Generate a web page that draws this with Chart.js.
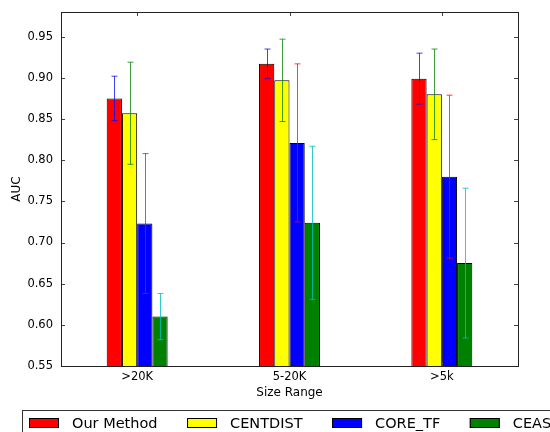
<!DOCTYPE html>
<html>
<head>
<meta charset="utf-8">
<script src="https://cdn.jsdelivr.net/npm/chart.js@4.4.1/dist/chart.umd.min.js"></script>
<style>
  html, body { margin: 0; padding: 0; background: #fff; overflow: hidden; }
  #wrap { width: 550px; height: 432px; position: relative; }
</style>
</head>
<body>
<div id="wrap"><canvas id="c" width="550" height="432"></canvas></div>
<script>
// ---- data ----
const categories = ['>20K', '5-20K', '>5k'];
const seriesNames = ['Our Method', 'CENTDIST', 'CORE_TF', 'CEAS'];
const ourMethod = [0.875, 0.917, 0.899];
const ourMethodErr = [0.027, 0.018, 0.031];
const centdist = [0.857, 0.897, 0.880];
const centdistErr = [0.062, 0.050, 0.055];
const coreTF = [0.723, 0.821, 0.780];
const coreTFErr = [0.085, 0.096, 0.099];
const ceas = [0.610, 0.724, 0.675];
const ceasErr = [0.028, 0.093, 0.091];
const yTicks = [0.55, 0.60, 0.65, 0.70, 0.75, 0.80, 0.85, 0.90, 0.95];

// ---- styles ----
const barColors = ['#ff0000', '#ffff00', '#0000ff', '#008000'];
const errColors = ['rgba(0,0,255,0.75)', 'rgba(0,128,0,0.75)', 'rgba(255,0,0,0.75)', 'rgba(0,191,191,0.8)'];
const FONT = '"DejaVu Sans", sans-serif';

const values = [ourMethod, centdist, coreTF, ceas];
const errors = [ourMethodErr, centdistErr, coreTFErr, ceasErr];

const errorBarPlugin = {
  id: 'errorBars',
  afterDatasetsDraw(chart) {
    const ctx = chart.ctx;
    const y = chart.scales.y;
    ctx.save();
    chart.data.datasets.forEach((ds, i) => {
      const meta = chart.getDatasetMeta(i);
      meta.data.forEach((el, j) => {
        const v = ds.data[j], e = ds.errors[j];
        const x = Math.round(el.x) + 0.5;
        const yt = y.getPixelForValue(v + e);
        const yb = y.getPixelForValue(v - e);
        ctx.strokeStyle = ds.errColor;
        ctx.lineWidth = 1;
        ctx.beginPath();
        ctx.moveTo(x, yt); ctx.lineTo(x, yb);
        ctx.moveTo(x - 3, yt); ctx.lineTo(x + 3, yt);
        ctx.moveTo(x - 3, yb); ctx.lineTo(x + 3, yb);
        ctx.stroke();
      });
    });
    ctx.restore();
  }
};

const framePlugin = {
  id: 'frame',
  afterDraw(chart) {
    const ctx = chart.ctx;
    const a = chart.chartArea;
    const xs = chart.scales.x, ys = chart.scales.y;
    ctx.save();
    // inward ticks
    ctx.strokeStyle = '#444';
    ctx.lineWidth = 1;
    ctx.beginPath();
    ys.ticks.forEach(t => {
      const py = Math.round(ys.getPixelForValue(t.value)) + 0.5;
      ctx.moveTo(a.left, py); ctx.lineTo(a.left + 4, py);
      ctx.moveTo(a.right, py); ctx.lineTo(a.right - 4, py);
    });
    categories.forEach((c, i) => {
      const px = Math.round(xs.getPixelForValue(i)) + 0.5;
      ctx.moveTo(px, a.bottom); ctx.lineTo(px, a.bottom - 4);
      ctx.moveTo(px, a.top); ctx.lineTo(px, a.top + 4);
    });
    ctx.stroke();
    // frame
    ctx.strokeStyle = '#222';
    ctx.strokeRect(Math.round(a.left) + 0.5, Math.round(a.top) + 0.5,
                   Math.round(a.right - a.left), Math.round(a.bottom - a.top));

    // legend
    ctx.strokeStyle = '#333';
    ctx.strokeRect(22.5, 410.5, 620, 40);
    ctx.font = '14.5px ' + FONT;
    ctx.textBaseline = 'alphabetic';
    ctx.textAlign = 'left';
    let x = 29;
    chart.data.datasets.forEach(ds => {
      ctx.fillStyle = ds.backgroundColor;
      ctx.fillRect(x, 418, 30, 10);
      ctx.strokeStyle = '#000';
      ctx.strokeRect(x + 0.5, 418.5, 29, 9);
      ctx.fillStyle = '#000';
      const tx = x + 43;
      ctx.fillText(ds.label, tx, 427.5);
      x = tx + ctx.measureText(ds.label).width + 29.5;
    });
    ctx.restore();
  }
};

new Chart(document.getElementById('c'), {
  type: 'bar',
  data: {
    labels: categories,
    datasets: seriesNames.map((n, i) => ({
      label: n,
      data: values[i],
      errors: errors[i],
      errColor: errColors[i],
      backgroundColor: barColors[i],
      borderColor: '#000',
      borderWidth: 1,
      borderSkipped: false,
      categoryPercentage: 0.4,
      barPercentage: 1.0
    }))
  },
  options: {
    responsive: false,
    animation: false,
    layout: { padding: { left: 0, right: 32, top: 12, bottom: 32 } },
    plugins: { legend: { display: false }, tooltip: { enabled: false } },
    scales: {
      x: {
        offset: true,
        grid: { display: false, drawTicks: false },
        border: { display: false },
        ticks: { color: '#000', font: { family: FONT, size: 11.5 }, padding: 4 },
        title: { display: true, text: 'Size Range', color: '#000',
                 font: { family: FONT, size: 12 }, padding: { top: 0, bottom: 0 } },
        afterFit(s) { s.height = 34; s.paddingLeft = 0; s.paddingRight = 0; }
      },
      y: {
        min: 0.55, max: 0.98,
        grid: { display: false, drawTicks: false },
        border: { display: false },
        afterBuildTicks(s) { s.ticks = yTicks.map(v => ({ value: v })); },
        ticks: { color: '#000', font: { family: FONT, size: 11.5 }, padding: 8,
                 callback: v => Number(v).toFixed(2) },
        title: { display: true, text: 'AUC', color: '#000',
                 font: { family: FONT, size: 12 }, padding: { top: 10, bottom: 0 } },
        afterFit(s) { s.width = 61; s.paddingTop = 0; s.paddingBottom = 0; }
      }
    }
  },
  plugins: [errorBarPlugin, framePlugin]
});
</script>
</body>
</html>
